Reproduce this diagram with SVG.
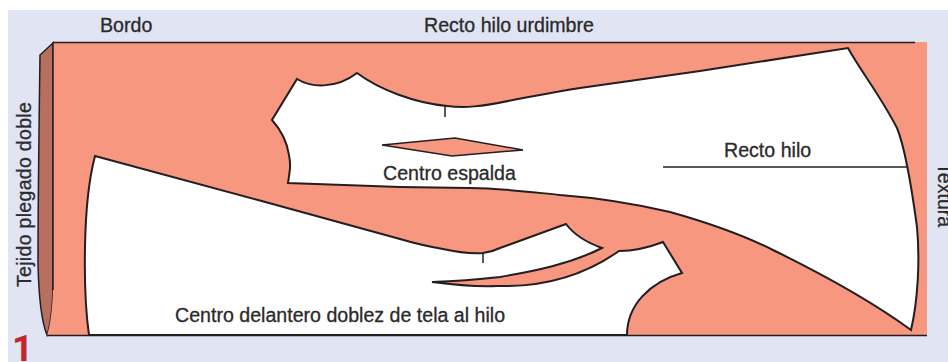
<svg xmlns="http://www.w3.org/2000/svg" width="948" height="362" viewBox="0 0 948 362">
<style>
.t{font-family:"Liberation Sans",Arial,sans-serif;font-size:19.6px;fill:#2b2a2c;stroke:#2b2a2c;stroke-width:.3}
.p{fill:#fff;stroke:#231f20;stroke-width:2;stroke-linejoin:miter}
.l{fill:none;stroke:#231f20;stroke-width:1.5}
</style>
<rect width="948" height="362" fill="#fff"/>
<rect x="8" y="10" width="940" height="352" fill="#e1e4f3"/>
<g id="fabric">
<path d="M53 43L40 55Q38 200 38 263Q39 315 47 335Q52 320 53 290Z" fill="#b86f60" stroke="#231f20" stroke-width="1.5"/>
<path d="M53 42H927V335.500H47Q52 320 53 290Z" fill="#f8977f"/>
<path class="l" d="M53 42.500H915M47 335.500H927M53 42V290"/>
</g>
<g id="back-piece">
<path class="p" d="M297 79C310 87 335 90 357 73C380 90 415 103 447 106C465 108 480 107 513 100C535 96 555 92 580 88L700 71L848 48C860 70 880 95 897 128C906 150 912 190 917 227C920 260 918 300 911 330C870 300 820 273 773 250C755 241 720 226 670 212C640 205 600 198 560 195C530 192 500 188 470 188L400 187L288 183C290 170 291 165 289 155C287 142 281 130 272 120Z"/>
<path class="l" d="M445 106V117"/>
<path d="M382 145L455 138L523 150L452 156Z" fill="#f8977f" stroke="#231f20" stroke-width="1.500"/>
<path class="l" d="M663 167H908"/>
</g>
<g id="front-piece">
<path class="p" d="M95 156L258 200L400 239Q420 245 443 249Q465 254 483 253Q492 252 500 248L566 224C575 236 588 243 602 248C570 264 535 271 500 277Q465 281 432 282Q470 287 497 286C530 287 575 282 619 251C635 251 650 247 663 242L682 273C650 282 627 305 627 335H89Q84 300 85 247Q86 190 95 156Z"/>
<path class="l" d="M483 253V263"/>
</g>
<g id="labels">
<text class="t" x="100" y="32">Bordo</text>
<text class="t" x="424" y="32">Recto hilo urdimbre</text>
<text class="t" x="724" y="157">Recto hilo</text>
<text class="t" x="383" y="180">Centro espalda</text>
<text class="t" x="175" y="322">Centro delantero doblez de tela al hilo</text>
<text class="t" transform="translate(31,287) rotate(-90)" letter-spacing=".27">Tejido plegado doble</text>
<text class="t" transform="translate(938,163) rotate(90)">Textura</text>
<text x="12" y="361" font-family="Roboto,Arial,sans-serif" font-weight="700" font-size="37" fill="#c1272d">1</text>
</g>
</svg>
